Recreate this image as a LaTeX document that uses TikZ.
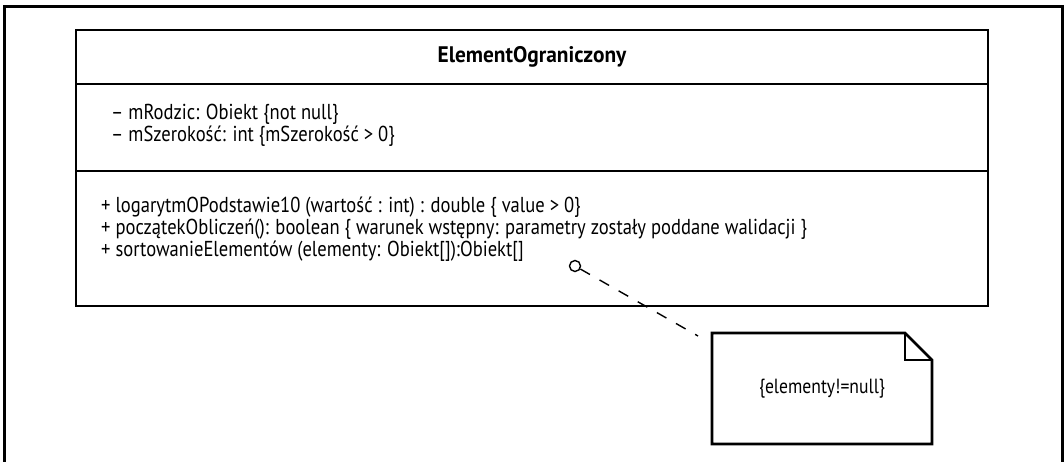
\documentclass[tikz,border=0pt]{standalone}
\usepackage{fontspec}
\setmainfont{PT Sans}[FakeStretch=0.86]
\newfontfamily\headfont{PT Sans}[FakeStretch=0.95]
\begin{document}
\begin{tikzpicture}[x=1pt,y=-1pt,
  frameline/.style={line width=3pt},
  boxline/.style={line width=2.6pt},
  member/.style={anchor=base west,inner sep=0pt,font=\fontsize{21.6}{24}\selectfont},
  notetext/.style={inner sep=0pt,font=\fontsize{20.5}{24}\selectfont},
  anchordot/.style={circle,draw,line width=1.4pt,minimum size=11pt,inner sep=0pt},
  link/.style={line width=1.4pt,dash pattern=on 11pt off 11pt}]
\useasboundingbox (0,0) rectangle (1064,462);
% outer frame, open at the bottom
\draw[frameline] (4,462) -- (4,7) -- (1062,7) -- (1062,462);
% class box with its three compartments
\draw[boxline] (76,30) rectangle (988,306);
\draw[boxline] (76,84) -- (988,84);
\draw[boxline] (76,171) -- (988,171);
\node[inner sep=0pt,font=\fontsize{22.5}{24}\headfont\bfseries] (title) at (532,57) {ElementOgraniczony};
% attributes
\node[member] (a1) at (111,120) {– mRodzic: Obiekt \{not null\}};
\node[member] (a2) at (111,142) {– mSzerokość: int \{mSzerokość > 0\}};
% operations
\node[member] (m1) at (101,212) {+ logarytmOPodstawie10 (wartość : int) : double \{ value > 0\}};
\node[member] (m2) at (101,234) {+ początekObliczeń(): boolean \{ warunek wstępny: parametry zostały poddane walidacji \}};
\node[member] (m3) at (101,256) {+ sortowanieElementów (elementy: Obiekt[]):Obiekt[]};
% note with folded corner
\draw[boxline,line join=miter] (712,333) -- (905,333) -- (932,360) -- (932,444) -- (712,444) -- cycle;
\draw[boxline] (905,333) -- (905,360) -- (932,360);
\node[notetext] (note) at (822,389) {\{elementy!=null\}};
% anchor of the note on the operation
\node[anchordot] (dot) at (575,266) {};
\coordinate (noteend) at (698,336);
\draw[link] (dot) -- (noteend);
\end{tikzpicture}
\end{document}
